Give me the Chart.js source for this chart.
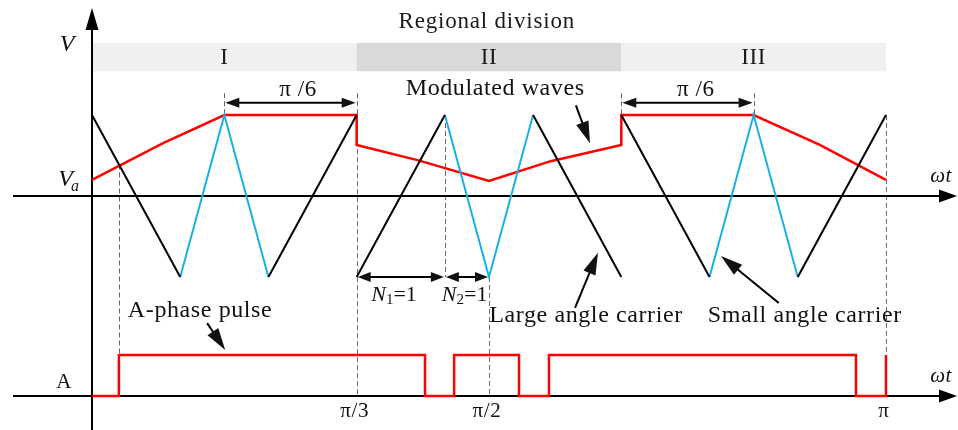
<!DOCTYPE html>
<html>
<head>
<meta charset="utf-8">
<script src="https://cdn.jsdelivr.net/npm/chart.js@4"></script>
<style>
  html, body { margin: 0; padding: 0; background: #fff; }
  #wrap { width: 958px; height: 430px; position: relative; }
</style>
</head>
<body>
<div id="wrap"><canvas id="myChart"></canvas></div>
<script>
// angle in degrees (0..180 is 0..pi), voltage normalised to the carrier peak
const regions = ['I', 'II', 'III'];
const regionEdges = [0, 60, 120, 180];
const tickLabels = [[60, 'π/3'], [90, 'π/2'], [180, 'π']];

// large angle carrier (black), one list per straight piece
const largeCarrier = [
  [[0, 1], [20, -1]],
  [[40, -1], [60, 1]],
  [[60, -1], [80, 1]],
  [[100, 1], [120, -1]],
  [[120, 1], [140, -1]],
  [[160, -1], [180, 1]]
];
// small angle carrier (blue)
const smallCarrier = [
  [[20, -1], [30, 1], [40, -1]],
  [[80, 1], [90, -1], [100, 1]],
  [[140, -1], [150, 1], [160, -1]]
];
// modulated wave
const modulated = [
  [0, 0.2], [16, 0.65], [30, 1], [60, 1],
  [60, 0.63], [74, 0.44], [90, 0.185], [104, 0.43], [120, 0.63],
  [120, 1], [150, 1], [165, 0.63], [180, 0.2]
];
// A-phase pulse switching angles, starts low
const pulseEdges = [6.1, 75.5, 82.1, 96.8, 103.6, 173.2, 180];

function joinSegments(segs) {
  const out = [];
  segs.forEach((s, i) => {
    if (i > 0) out.push({ x: s[0][0], y: null });
    s.forEach(p => out.push({ x: p[0], y: p[1] }));
  });
  return out;
}

function pulsePoints() {
  const pts = [{ x: 0, y: 0 }];
  let level = 0;
  pulseEdges.forEach(e => {
    pts.push({ x: e, y: level });
    level = 1 - level;
    pts.push({ x: e, y: level });
  });
  return pts;
}

const SERIF = '"Liberation Serif", "DejaVu Serif", serif';

// helpers to go from data to pixels
function X(chart, v) { return chart.scales.x.getPixelForValue(v); }
function Y(chart, v, axis) { return chart.scales[axis || 'y'].getPixelForValue(v); }

function arrowHead(ctx, x0, y0, x1, y1, len, half) {
  const a = Math.atan2(y1 - y0, x1 - x0);
  ctx.beginPath();
  ctx.moveTo(x1, y1);
  ctx.lineTo(x1 - len * Math.cos(a) + half * Math.sin(a), y1 - len * Math.sin(a) - half * Math.cos(a));
  ctx.lineTo(x1 - len * Math.cos(a) - half * Math.sin(a), y1 - len * Math.sin(a) + half * Math.cos(a));
  ctx.closePath();
  ctx.fill();
}

function arrow(ctx, x0, y0, x1, y1, len, half) {
  const a = Math.atan2(y1 - y0, x1 - x0);
  ctx.beginPath();
  ctx.moveTo(x0, y0);
  ctx.lineTo(x1 - len * 0.6 * Math.cos(a), y1 - len * 0.6 * Math.sin(a));
  ctx.stroke();
  arrowHead(ctx, x0, y0, x1, y1, len, half);
}

function text(ctx, str, x, y, size, italic) {
  ctx.font = (italic ? 'italic ' : '') + size + 'px ' + SERIF;
  ctx.fillText(str, x, y);
}

// dashed guide lines: [angle, from, axis, to, axis]
const guides = [
  [6.1, 0.39, 'y', 1, 'yP'],
  [30, 1.27, 'y', 1, 'y'],
  [60, 1.27, 'y', 0, 'yP'],
  [80, 1, 'y', -1, 'y'],
  [90, -1, 'y', 0, 'yP'],
  [120, 1.27, 'y', 1, 'y'],
  [150, 1.27, 'y', 1, 'y'],
  [180, 1, 'y', 1, 'yP']
];

const backdrop = {
  id: 'backdrop',
  beforeDatasetsDraw(chart) {
    const ctx = chart.ctx;
    ctx.save();
    // region bars
    const top = Y(chart, 1.89), bot = Y(chart, 1.54);
    regions.forEach((r, i) => {
      const x0 = X(chart, regionEdges[i]), x1 = X(chart, regionEdges[i + 1]);
      ctx.fillStyle = i === 1 ? '#d9d9d9' : '#f0f0f0';
      ctx.fillRect(x0, top, x1 - x0, bot - top);
      ctx.fillStyle = '#1a1a1a';
      ctx.textAlign = 'center';
      ctx.textBaseline = 'middle';
      ctx.letterSpacing = '0.6px';
      text(ctx, r, (x0 + x1) / 2, (top + bot) / 2 + 1, 23);
    });
    ctx.letterSpacing = '0.8px';
    text(ctx, 'Regional division', X(chart, 89.5), Y(chart, 2.15), 23);

    // dashed guides
    ctx.strokeStyle = '#666';
    ctx.lineWidth = 1;
    ctx.setLineDash([5, 3]);
    guides.forEach(g => {
      const px = Math.round(X(chart, g[0])) + 0.5;
      ctx.beginPath();
      ctx.moveTo(px, Y(chart, g[1], g[2]));
      ctx.lineTo(px, Y(chart, g[3], g[4]));
      ctx.stroke();
    });
    ctx.setLineDash([]);

    // axes
    ctx.strokeStyle = '#000';
    ctx.fillStyle = '#000';
    ctx.lineWidth = 2;
    const ax = X(chart, 0);
    const yUp = Y(chart, 0), yLow = Y(chart, 0, 'yP');
    [yUp, yLow].forEach(yy => {
      ctx.beginPath();
      ctx.moveTo(13, yy);
      ctx.lineTo(945, yy);
      ctx.stroke();
      arrowHead(ctx, 13, yy, 957, yy, 18, 6.5);
    });
    ctx.beginPath();
    ctx.moveTo(ax, 430);
    ctx.lineTo(ax, 20);
    ctx.stroke();
    arrowHead(ctx, ax, 430, ax, 8, 22, 6.5);
    ctx.restore();
  }
};

const notes = {
  id: 'notes',
  afterDatasetsDraw(chart) {
    const ctx = chart.ctx;
    ctx.save();
    ctx.fillStyle = '#111';
    ctx.strokeStyle = '#000';
    ctx.lineWidth = 2;
    ctx.textBaseline = 'middle';
    ctx.letterSpacing = '0.6px';

    // axis names
    ctx.textAlign = 'center';
    text(ctx, 'V', X(chart, -5.6), Y(chart, 1.87), 24, true);
    text(ctx, 'V', X(chart, -5.9), Y(chart, 0.2), 24, true);
    text(ctx, 'a', X(chart, -3.8), Y(chart, 0.11), 16, true);
    text(ctx, 'A', X(chart, -6.3), Y(chart, -2.3), 21);
    text(ctx, 'ωt', X(chart, 192.5), Y(chart, 0.24), 21, true);
    text(ctx, 'ωt', X(chart, 192.5), Y(chart, -2.23), 21, true);
    tickLabels.forEach(t => text(ctx, t[1], X(chart, t[0]) - 2, Y(chart, -2.66), 21));

    // pi/6 spans
    [[30, 60, 46.7], [120, 150, 136.9]].forEach(s => {
      const yy = Y(chart, 1.15);
      const x0 = X(chart, s[0]), x1 = X(chart, s[1]);
      ctx.beginPath();
      ctx.moveTo(x0 + 8, yy);
      ctx.lineTo(x1 - 8, yy);
      ctx.stroke();
      arrowHead(ctx, x1, yy, x0 + 1, yy, 14, 5);
      arrowHead(ctx, x0, yy, x1 - 1, yy, 14, 5);
      text(ctx, 'π /6', X(chart, s[2]), Y(chart, 1.31), 23);
    });

    // N1, N2 spans at the carrier valley
    const yv = Y(chart, -1);
    [[60, 80], [80, 90]].forEach(s => {
      const x0 = X(chart, s[0]), x1 = X(chart, s[1]);
      ctx.beginPath();
      ctx.moveTo(x0 + 8, yv);
      ctx.lineTo(x1 - 8, yv);
      ctx.stroke();
      arrowHead(ctx, x1, yv, x0 + 1, yv, 13, 5);
      arrowHead(ctx, x0, yv, x1 - 1, yv, 13, 5);
    });
    ctx.textAlign = 'left';
    const yn = Y(chart, -1.22);
    [[63.3, '1'], [79.3, '2']].forEach(n => {
      let px = X(chart, n[0]);
      ctx.letterSpacing = '0px';
      text(ctx, 'N', px, yn, 22, true);
      px += ctx.measureText('N').width;
      text(ctx, n[1], px, yn + 5, 15);
      px += ctx.measureText(n[1]).width;
      text(ctx, '=1', px, yn, 22);
    });
    ctx.letterSpacing = '0.6px';

    // callouts
    ctx.textAlign = 'center';
    text(ctx, 'Modulated waves', X(chart, 91.4), Y(chart, 1.32), 24);
    text(ctx, 'Large angle carrier', X(chart, 112), Y(chart, -1.48), 24);
    text(ctx, 'Small angle carrier', X(chart, 161.6), Y(chart, -1.48), 24);
    text(ctx, 'A-phase pulse', X(chart, 24.5), Y(chart, -1.41), 24);
    const callouts = [
      [109.7, 1.12, 112.9, 0.65],
      [109.5, -1.38, 114.7, -0.70],
      [155.7, -1.32, 142.6, -0.74],
      [26.1, -1.57, 30.2, -1.90]
    ];
    callouts.forEach(c => {
      arrow(ctx, X(chart, c[0]), Y(chart, c[1]), X(chart, c[2]), Y(chart, c[3]), 22, 6.5);
    });
    ctx.restore();
  }
};

const ctx = document.getElementById('myChart');

const myChart = new Chart(ctx, {
  type: 'line',
  data: {
    datasets: [
      {
        label: 'Large angle carrier',
        data: joinSegments(largeCarrier),
        borderColor: '#000',
        borderWidth: 2,
        yAxisID: 'y'
      },
      {
        label: 'Small angle carrier',
        data: joinSegments(smallCarrier),
        borderColor: '#19b0ea',
        borderWidth: 2,
        yAxisID: 'y'
      },
      {
        label: 'Modulated waves',
        data: modulated.map(p => ({ x: p[0], y: p[1] })),
        borderColor: '#ff0000',
        borderWidth: 2.5,
        yAxisID: 'y'
      },
      {
        label: 'A-phase pulse',
        data: pulsePoints(),
        borderColor: '#ff0000',
        borderWidth: 2.5,
        yAxisID: 'yP'
      }
    ]
  },
  options: {
    responsive: true,
    maintainAspectRatio: false,
    animation: false,
    spanGaps: false,
    layout: { padding: 0 },
    elements: {
      point: { radius: 0 },
      line: { tension: 0, borderJoinStyle: 'miter', borderCapStyle: 'butt' }
    },
    scales: {
      x: { type: 'linear', min: -20.86, max: 196.33, display: false },
      y: { type: 'linear', min: -2.889, max: 2.42, display: false },
      yP: { type: 'linear', min: -0.829, max: 9.66, display: false }
    },
    plugins: {
      legend: { display: false },
      tooltip: { enabled: false }
    }
  },
  plugins: [backdrop, notes]
});
</script>
</body>
</html>
